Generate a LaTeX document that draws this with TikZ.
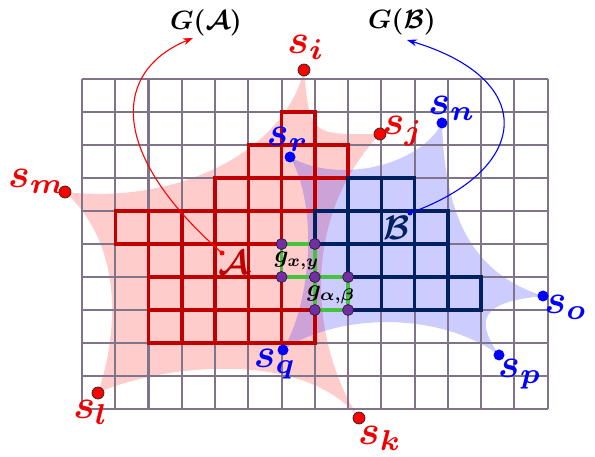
\documentclass[tikz,border=0pt]{standalone}
\usepackage{amsmath,bm}
\usetikzlibrary{arrows.meta}
\definecolor{gridc}{RGB}{128,116,138}
\definecolor{redc}{RGB}{192,0,0}
\definecolor{bluec}{RGB}{0,32,96}
\definecolor{greenc}{RGB}{70,195,60}
\definecolor{purp}{RGB}{112,48,160}
\definecolor{purpd}{RGB}{50,20,70}
\definecolor{lred}{RGB}{240,0,0}
\definecolor{lblue}{RGB}{0,0,255}
\begin{document}
\begin{tikzpicture}[x=1pt,y=-1pt,
  gridl/.style={draw=gridc, line width=2.1pt},
  redcell/.style={draw=redc, line width=3.5pt},
  bluecell/.style={draw=bluec, line width=3.5pt},
  greencell/.style={draw=greenc, line width=3.5pt},
  pdot/.style={circle, fill=purp, draw=purpd, line width=0.7pt, minimum size=11pt, inner sep=0pt},
  rdot/.style={circle, fill=red, draw=black!85, line width=0.7pt, minimum size=12pt, inner sep=0pt},
  bdot/.style={circle, fill=lblue, minimum size=11pt, inner sep=0pt},
  smalldot/.style={circle, minimum size=5pt, inner sep=0pt},
  rlab/.style={text=lred, font=\normalsize, scale=4.1, inner sep=0pt},
  blab/.style={text=lblue, font=\normalsize, scale=4.1, inner sep=0pt},
  glab/.style={text=black, font=\normalsize, scale=2.65, inner sep=0pt},
  cellab/.style={text=black, font=\normalsize, scale=2.4, inner sep=0pt},
  setlab/.style={font=\normalsize, scale=3.4, inner sep=0pt},
  redshade/.style={fill=red, fill opacity=0.2},
  blueshade/.style={fill=blue, fill opacity=0.2},
  curvearrow/.style={line width=1.1pt, -{Stealth[length=10pt,width=7pt]}}
]
\fill[white] (0,0) rectangle (595,457);
\useasboundingbox (0,0) rectangle (595,457);

% points
\coordinate (si) at (304,70);
\coordinate (sj) at (380,134);
\coordinate (sk) at (359,418);
\coordinate (sl) at (98,393);
\coordinate (sm) at (65,192);
\coordinate (sr) at (290,157);
\coordinate (sn) at (442,123);
\coordinate (so) at (543,296);
\coordinate (sp) at (499,355);
\coordinate (sq) at (283,350);

% shaded stars
\fill[redshade] (si) .. controls (310,135) .. (sj)
  .. controls (290,230) and (320,360) .. (sk)
  .. controls (300,345) and (150,368) .. (sl)
  .. controls (122,320) and (118,240) .. (sm)
  .. controls (180,205) and (285,150) .. (si) -- cycle;
\fill[blueshade] (sr) .. controls (340,185) and (420,165) .. (sn)
  .. controls (445,215) and (470,272) .. (so)
  .. controls (480,302) and (475,320) .. (sp)
  .. controls (440,312) and (340,312) .. (sq)
  .. controls (312,300) and (318,205) .. (sr) -- cycle;

\begin{scope}[shift={(82pt,-79pt)}, x=33.26pt, y=-33pt]
  \foreach \i in {0,...,14} \draw[gridl] (\i,0) -- (\i,10);
  \foreach \j in {0,...,10} \draw[gridl] (0,\j) -- (14,\j);
  \foreach \c/\r in {6/1,5/2,6/2,7/2,4/3,5/3,6/3,7/3,1/4,2/4,3/4,4/4,5/4,6/4,
     2/5,3/5,4/5,5/5,2/6,3/6,4/6,5/6,6/6,2/7,3/7,4/7,5/7,6/7}
     \draw[redcell] (\c,\r) rectangle ++(1,1);
  \foreach \c/\r in {8/3,9/3,7/4,8/4,9/4,10/4,7/5,8/5,9/5,10/5,8/6,9/6,10/6,11/6}
     \draw[bluecell] (\c,\r) rectangle ++(1,1);
  \draw[greencell] (6,5) rectangle (7,6);
  \draw[greencell] (7,6) rectangle (8,7);
  \node[pdot] (p1) at (6,5) {};
  \node[pdot] (p2) at (7,5) {};
  \node[pdot] (p3) at (6,6) {};
  \node[pdot] (p4) at (7,6) {};
  \node[pdot] (p5) at (8,6) {};
  \node[pdot] (p6) at (7,7) {};
  \node[pdot] (p7) at (8,7) {};
\end{scope}

% cell labels
\node[cellab] (gxy) at (297,261) {$\bm{g_{x,y}}$};
\node[cellab] (gab) at (331,295) {$\bm{g_{\alpha,\beta}}$};

% set labels
\node[setlab, text=redc] (Alab) at (234,263) {$\bm{\mathcal{A}}$};
\node[setlab, text=bluec] (Blab) at (397,228) {$\bm{\mathcal{B}}$};
\node[smalldot, fill=red] (Adot) at (222,253) {};
\node[smalldot, fill=lblue] (Bdot) at (410,213) {};

% G labels
\node[glab] (GA) at (206,23) {$\bm{G(\mathcal{A})}$};
\node[glab] (GB) at (402,22) {$\bm{G(\mathcal{B})}$};
\coordinate (tipA) at (193,38);
\coordinate (tipB) at (407,40);
\draw[curvearrow, red] (Adot.center) .. controls (105,150) and (115,70) .. (tipA);
\draw[curvearrow, lblue] (Bdot.center) .. controls (530,170) and (540,80) .. (tipB);

% point dots
\node[rdot] (dsi) at (si) {};
\node[rdot] (dsj) at (sj) {};
\node[rdot] (dsk) at (sk) {};
\node[rdot] (dsl) at (sl) {};
\node[rdot] (dsm) at (sm) {};
\node[bdot] (dsr) at (sr) {};
\node[bdot] (dsn) at (sn) {};
\node[bdot] (dso) at (so) {};
\node[bdot] (dsp) at (sp) {};
\node[bdot] (dsq) at (sq) {};

% point labels
\node[rlab] (lsi) at (306,47) {$\bm{s_i}$};
\node[rlab] (lsj) at (403,131) {$\bm{s_j}$};
\node[rlab] (lsk) at (380,438) {$\bm{s_k}$};
\node[rlab] (lsl) at (91,412) {$\bm{s_l}$};
\node[rlab] (lsm) at (37,181) {$\bm{s_m}$};
\node[blab] (lsr) at (288,139) {$\bm{s_r}$};
\node[blab] (lsn) at (452,108) {$\bm{s_n}$};
\node[blab] (lso) at (566,307) {$\bm{s_o}$};
\node[blab] (lsp) at (520,374) {$\bm{s_p}$};
\node[blab] (lsq) at (275,364) {$\bm{s_q}$};
\end{tikzpicture}
\end{document}
